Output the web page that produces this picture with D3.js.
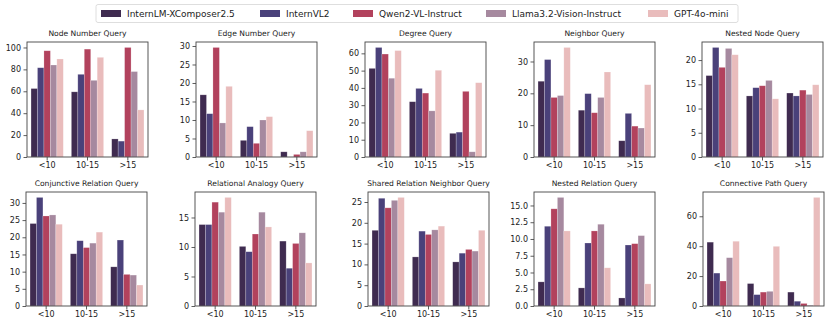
<!DOCTYPE html>
<html>
<head>
<meta charset="utf-8">
<script src="https://cdn.jsdelivr.net/npm/d3@7"></script>
<style>
  body { margin: 0; background: #fff; }
  text { font-family: "DejaVu Sans", sans-serif; fill: #222; }
</style>
</head>
<body>
<svg id="chart" width="830" height="326"></svg>
<script>
/* data */
const models = ['InternLM-XComposer2.5', 'InternVL2', 'Qwen2-VL-Instruct', 'Llama3.2-Vision-Instruct', 'GPT-4o-mini'];
const colors = ['#3f2b50', '#4a417a', '#b2425d', '#a6899f', '#e9bcbc'];
const groups = ['<10', '10-15', '>15'];
const titles = ['Node Number Query', 'Edge Number Query', 'Degree Query', 'Neighbor Query', 'Nested Node Query',
  'Conjunctive Relation Query', 'Relational Analogy Query', 'Shared Relation Neighbor Query', 'Nested Relation Query', 'Connective Path Query'];

// values[panel][group][model]
const nodeNumber = [[62.5, 81.5, 97, 84, 89.5], [59.5, 75.5, 98.5, 70, 91], [16.5, 14.5, 100, 78, 43]];
const edgeNumber = [[16.8, 11.7, 29.6, 9.2, 19.1], [4.5, 8.2, 3.7, 10, 10.9], [1.4, 0, 0.7, 1.4, 7.1]];
const degree = [[51.3, 63.4, 59.6, 45.6, 61.6], [32, 39.7, 37, 26.7, 50.2], [13.7, 14.4, 38, 3, 43]];
const neighbor = [[23.8, 30.6, 18.7, 19.3, 34.4], [14.7, 19.9, 13.9, 18.7, 26.7], [5.1, 13.7, 9.7, 9.1, 22.7]];
const nestedNode = [[16.8, 22.6, 18.5, 22.4, 21.1], [12.6, 14.3, 14.7, 15.8, 12.0], [13.2, 12.6, 13.8, 12.9, 14.9]];
const conjunctive = [[24, 31.6, 26.2, 26.5, 23.8], [15.2, 19, 17, 18.3, 21.5], [11.4, 19.2, 9.2, 9, 6.1]];
const analogy = [[13.8, 13.8, 17.6, 15.9, 18.4], [10.1, 9.2, 12.2, 15.9, 13.4], [11, 6.4, 10.6, 12.4, 7.3]];
const sharedNeighbor = [[18.2, 25.9, 23.6, 25.4, 26.1], [11.8, 18, 17.2, 18.3, 19.2], [10.6, 12.7, 13.6, 13.2, 18.2]];
const nestedRelation = [[3.6, 11.9, 14.5, 16.2, 11.2], [2.7, 9.4, 11.2, 12.2, 5.7], [1.2, 9.1, 9.3, 10.5, 3.3]];
const connective = [[42.7, 22, 16.7, 32.3, 43.3], [15, 7.6, 9.3, 9.8, 39.9], [9.3, 3.2, 1.7, 0.5, 72.6]];
const panelValues = [nodeNumber, edgeNumber, degree, neighbor, nestedNode, conjunctive, analogy, sharedNeighbor, nestedRelation, connective];

const yTicks = [
  [0, 20, 40, 60, 80, 100], [0, 5, 10, 15, 20, 25, 30], [0, 10, 20, 30, 40, 50, 60], [0, 10, 20, 30], [0, 5, 10, 15, 20],
  [0, 5, 10, 15, 20, 25, 30], [0, 5, 10, 15], [0, 5, 10, 15, 20, 25], [0, 2.5, 5, 7.5, 10, 12.5, 15], [0, 20, 40, 60]
];

/* layout */
const svg = d3.select('#chart');
const lefts = [[27, 196, 365, 534, 702], [26, 195, 368, 534, 703]];
const tops = [42, 192];
const pw = 121;
const ph = [115, 114];

panelValues.forEach((vals, i) => {
  const row = Math.floor(i / 5), col = i % 5;
  const g = svg.append('g').attr('transform', `translate(${lefts[row][col]}, ${tops[row]})`);
  const h = ph[row];

  const x0 = d3.scaleBand().domain(groups).range([0, pw]).paddingInner(0.2).paddingOuter(0.1);
  const x1 = d3.scaleBand().domain(models).range([0, x0.bandwidth()]);
  const maxV = d3.max(vals.flat());
  const y = d3.scaleLinear().domain([0, maxV * 1.05]).range([h, 0]);

  groups.forEach((grp, gi) => {
    g.append('g').selectAll('rect')
      .data(vals[gi])
      .join('rect')
      .attr('x', (d, mi) => x0(grp) + x1(models[mi]))
      .attr('y', d => y(d))
      .attr('width', x1.bandwidth())
      .attr('height', d => h - y(d))
      .attr('fill', (d, mi) => colors[mi])
      .attr('stroke', '#fff')
      .attr('stroke-opacity', 0.35)
      .attr('stroke-width', 0.6);
  });

  const fmt = i === 8 ? d3.format('.1f') : d3.format('d');
  const yAxis = g.append('g').call(d3.axisLeft(y).tickValues(yTicks[i]).tickFormat(fmt).tickSize(3.5).tickPadding(2.5));
  const xAxis = g.append('g').attr('transform', `translate(0, ${h})`)
    .call(d3.axisBottom(x0).tickSize(3.5).tickPadding(2));
  [yAxis, xAxis].forEach(a => {
    a.select('.domain').remove();
    a.selectAll('line').attr('stroke', '#333').attr('stroke-width', 0.8);
    a.selectAll('text').style('font-size', '8px').attr('fill', '#222');
  });

  g.append('rect').attr('width', pw).attr('height', h)
    .attr('fill', 'none').attr('stroke', '#444').attr('stroke-width', 0.9);

  g.append('text').attr('x', pw / 2).attr('y', -6)
    .attr('text-anchor', 'middle').style('font-size', '7.6px').text(titles[i]);
});

/* legend */
const legend = svg.append('g');
legend.append('rect').attr('x', 96).attr('y', 4.5).attr('width', 642).attr('height', 18)
  .attr('rx', 2).attr('fill', '#fff').attr('stroke', '#d5d5d5').attr('stroke-width', 0.8);
const legendX = [101, 260, 353, 486, 648];
models.forEach((m, mi) => {
  legend.append('rect').attr('x', legendX[mi]).attr('y', 10).attr('width', 20).attr('height', 7)
    .attr('fill', colors[mi]);
  legend.append('text').attr('x', legendX[mi] + 26).attr('y', 16.8)
    .style('font-size', '9px').text(m);
});
</script>
</body>
</html>
